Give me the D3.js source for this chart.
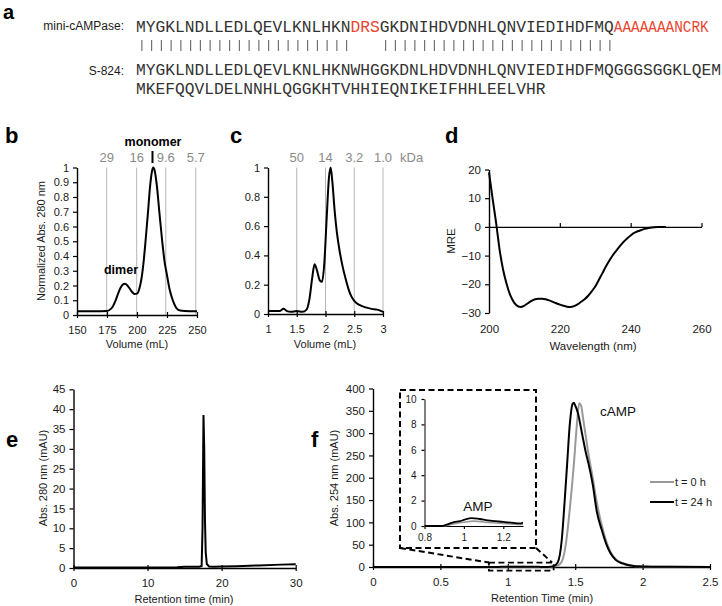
<!DOCTYPE html>
<html><head><meta charset="utf-8">
<script src="https://cdn.jsdelivr.net/npm/d3@7"></script>
<style>
body{margin:0;background:#fff;}
svg{display:block;font-family:"Liberation Sans",Arial,sans-serif;}
</style></head><body>
<svg id="chart" width="722" height="606"></svg>
<script>
// ================= DATA =================
// panel a: sequences
const seqMini = "MYGKLNDLLEDLQEVLKNLHKNDRSGKDNIHDVDNHLQNVIEDIHDFMQAAAAAAANCRK";
const seqMiniRedRanges = [[22, 25], [49, 60]];
const seqS824Line1 = "MYGKLNDLLEDLQEVLKNLHKNWHGGKDNLHDVDNHLQNVIEDIHDFMQGGGSGGKLQEM";
const seqS824Line2 = "MKEFQQVLDELNNHLQGGKHTVHHIEQNIKEIFHHLEELVHR";
const alignRanges = [[0, 21], [25, 48]];

// panel b: SEC (Volume mL vs normalized abs)
const bVolume = [150,165,175,178,180,182,184,186,188,190,192,194,196,198,200,202,204,205.5,207,209,211,212.5,213.6,214.7,216.5,218.6,221,223,225,227,229,231,233,236,240,250];
const bAbs    = [0.025,0.025,0.027,0.04,0.06,0.095,0.14,0.18,0.205,0.212,0.2,0.178,0.155,0.143,0.145,0.18,0.26,0.36,0.49,0.68,0.88,0.975,1.0,0.98,0.88,0.7,0.5,0.36,0.27,0.18,0.12,0.075,0.045,0.03,0.027,0.025];
const bXTicks = [150,175,200,225,250];
const bKdaPos = [174.75,199.75,224,249];
const bKdaLabels = ["29","16","9.6","5.7"];

// panel c
const cVolume = [1,1.1,1.2,1.27,1.33,1.4,1.5,1.6,1.67,1.72,1.77,1.81,1.85,1.9,1.94,1.98,2.02,2.06,2.09,2.12,2.16,2.2,2.25,2.3,2.35,2.4,2.45,2.5,2.6,2.7,2.8,2.9,3];
const cAbs    = [0.02,0.02,0.02,0.035,0.02,0.015,0.02,0.015,0.03,0.1,0.25,0.34,0.3,0.23,0.22,0.35,0.65,0.93,1.0,0.9,0.7,0.55,0.42,0.32,0.24,0.17,0.12,0.09,0.06,0.045,0.035,0.03,0.015];
const cXTicks = [1,1.5,2,2.5,3];
const cKdaPos = [1.5,2,2.5,3];
const cKdaLabels = ["50","14","3.2","1.0"];

// panel d: CD spectrum
const dWave = [200,201,202,203,204,205,206,207,208,209,210,211,212,213,214,215,216,217,218,219,220,221,222,223,224,225,226,227,228,229,230,231,232,233,234,235,236,237,238,239,240,241,242,243,244,245,246,248,250];
const dMRE  = [19,10,1.5,-8,-15,-20,-23.8,-26.2,-27.5,-27.9,-27.4,-26.6,-25.8,-25.2,-25,-25,-25.2,-25.6,-26.1,-26.6,-27.1,-27.5,-27.8,-27.9,-27.6,-27,-26.1,-25.2,-24,-22.5,-20.8,-18.5,-16.2,-13.8,-11.7,-9.8,-8.2,-6.6,-5.2,-4,-3,-2.1,-1.5,-1.1,-0.7,-0.4,-0.2,-0.05,0];
const dXTicks = [200,220,240,260];
const dYTicks = [-30,-20,-10,0,10,20];

// panel e: HPLC 280 nm
const eTime = [0,5,10,12,14,15,16,17,17.3,17.42,17.55,17.65,17.75,17.85,18,18.3,19,20,22,25,28,30];
const eAbs  = [0.1,0.1,0.1,0.15,0.2,0.3,0.3,0.3,0.5,10,38.5,30,12,4,1,0.4,0.3,0.35,0.45,0.65,0.85,0.95];
const eXTicks = [0,10,20,30];

// panel f: HPLC 254 nm, t = 0 h and t = 24 h
const fTime0 = [0,0.8,0.9,0.93,0.96,1.0,1.05,1.1,1.15,1.2,1.25,1.3,1.36,1.4,1.43,1.46,1.49,1.51,1.53,1.545,1.56,1.58,1.6,1.63,1.66,1.7,1.73,1.76,1.8,1.85,1.9,2,2.2,2.5];
const fAbs0  = [0,0,0,0.1,0.2,0.3,0.38,0.32,0.25,0.2,0.15,0.12,2,12,50,130,230,310,367,360,330,290,250,200,145,90,58,35,18,9,4,1,0.3,0];
const fTime24 = [0,0.8,0.89,0.92,0.95,0.98,1.0,1.04,1.08,1.12,1.16,1.2,1.25,1.28,1.3,1.34,1.37,1.4,1.42,1.44,1.46,1.48,1.49,1.5,1.52,1.55,1.58,1.6,1.63,1.66,1.7,1.73,1.76,1.8,1.85,1.9,2,2.2,2.5];
const fAbs24  = [0,0,0,0.15,0.3,0.38,0.48,0.62,0.55,0.45,0.38,0.32,0.25,0.2,0.25,2,10,60,140,230,320,365,368,362,345,300,255,230,185,125,80,52,32,16,8,4,1,0.3,0];
const fSeries = ["t = 0 h", "t = 24 h"];
const fXTicks = [0,0.5,1,1.5,2,2.5];
const insetXTicks = [0.8,1,1.2];
const insetYTicks = [0,2,4,6,8,10];
const zoomBox = {x0: 0.86, x1: 1.34, y0: -8, y1: 10};

// ================= DRAWING =================
const svg = d3.select("#chart");
svg.append("rect").attr("width",722).attr("height",606).attr("fill","#fff");
const FONT = "Liberation Sans, Arial, sans-serif";

function styleAxis(g, fs) {
  g.attr("font-family", FONT).attr("font-size", fs || 11);
  g.select(".domain").attr("stroke","#000").attr("stroke-width",1.4);
  g.selectAll(".tick line").attr("stroke","#000").attr("stroke-width",1.2);
  g.selectAll(".tick text").attr("fill","#1a1a1a");
}
function crossTicks(g, h) {
  g.selectAll(".tick line").attr("y1", -h).attr("y2", h);
}
function letter(t, x, y, fs) {
  svg.append("text").attr("x",x).attr("y",y).attr("font-size",fs||22).attr("font-weight","bold")
    .attr("font-family",FONT).attr("fill","#000").text(t);
}
function txt(t, x, y, opts) {
  opts = opts || {};
  const s = svg.append("text").attr("x",x).attr("y",y).attr("font-size",opts.fs||11)
    .attr("font-family",FONT).attr("fill",opts.fill||"#1a1a1a")
    .attr("text-anchor",opts.anchor||"middle").text(t);
  if (opts.weight) s.attr("font-weight",opts.weight);
  if (opts.rot) s.attr("transform",`rotate(-90,${x},${y})`);
  return s;
}
function linePath(xs, ys, x, y, curve) {
  const pts = xs.map((v,i)=>[v, ys[i]]);
  return d3.line().x(d=>x(d[0])).y(d=>y(d[1])).curve(curve || d3.curveMonotoneX)(pts);
}

// ---------- panel a ----------
letter("a", 3, 19, 20);
const MONO = "Liberation Mono, Courier New, monospace";
const cw = 9.75, seqX = 136;
txt("mini-cAMPase:", 124, 30, {fs:12, anchor:"end"});
txt("S-824:", 124, 75, {fs:12, anchor:"end"});
(function(){
  const breaks = [0];
  seqMiniRedRanges.forEach(r=>{breaks.push(r[0]); breaks.push(r[1]);});
  breaks.push(seqMini.length);
  const uniq = Array.from(new Set(breaks)).sort((a,b)=>a-b);
  for (let k=0;k<uniq.length-1;k++){
    const s=uniq[k], e=uniq[k+1];
    if (e<=s) continue;
    const red = seqMiniRedRanges.some(r=>s>=r[0] && e<=r[1]);
    const t = svg.append("text").attr("x", seqX + s*cw).attr("y",32)
      .attr("font-family",MONO).attr("font-size",16.25)
      .attr("fill", red ? "#ea4530" : "#333").text(seqMini.slice(s,e));
    if (s===49) t.attr("textLength", 95).attr("lengthAdjust","spacingAndGlyphs");
  }
  alignRanges.forEach(r=>{
    for (let i=r[0]; i<=r[1]; i++) {
      const bx = seqX + (i+0.5)*cw + 1;
      svg.append("line").attr("x1",bx).attr("x2",bx).attr("y1",40).attr("y2",51)
        .attr("stroke","#666").attr("stroke-width",1.1);
    }
  });
  svg.append("text").attr("x",seqX).attr("y",75).attr("font-family",MONO).attr("font-size",16.25)
    .attr("fill","#333").text(seqS824Line1);
  svg.append("text").attr("x",seqX).attr("y",94).attr("font-family",MONO).attr("font-size",16.25)
    .attr("fill","#333").text(seqS824Line2);
})();

// ---------- panel b ----------
letter("b", 5, 143);
{
  const x = d3.scaleLinear([150,250],[77,197]);
  const y = d3.scaleLinear([0,1],[315,167.5]);
  bKdaPos.forEach((v,i)=>{
    svg.append("line").attr("x1",x(v)).attr("x2",x(v)).attr("y1",y(1)).attr("y2",y(0))
      .attr("stroke","#b5b5b5").attr("stroke-width",1);
    txt(bKdaLabels[i], x(v), 162, {fs:13, fill:"#8a8a8a"});
  });
  const gx = svg.append("g").attr("transform",`translate(0,${y(0)})`)
    .call(d3.axisBottom(x).tickValues(bXTicks).tickSize(3).tickSizeOuter(0).tickPadding(8).tickFormat(d3.format("d")));
  styleAxis(gx); crossTicks(gx,3);
  const gy = svg.append("g").attr("transform",`translate(${x(150)},0)`)
    .call(d3.axisLeft(y).ticks(10).tickSize(4).tickSizeOuter(0).tickPadding(4).tickFormat(d3.format("~g")));
  styleAxis(gy);
  svg.append("path").attr("d", linePath(bVolume,bAbs,x,y)).attr("fill","none").attr("stroke","#000").attr("stroke-width",2);
  txt("monomer", 153, 146, {fs:12.5, weight:"bold", fill:"#000"});
  svg.append("line").attr("x1",152.5).attr("x2",152.5).attr("y1",151).attr("y2",163).attr("stroke","#000").attr("stroke-width",2);
  txt("dimer", 121, 274, {fs:12.5, weight:"bold", fill:"#000"});
  txt("Volume (mL)", 137, 348, {fs:11});
  txt("Normalized Abs. 280 nm", 45, 241, {fs:11, rot:true});
}

// ---------- panel c ----------
letter("c", 230, 143);
{
  const x = d3.scaleLinear([1,3],[268,383]);
  const y = d3.scaleLinear([0,1],[314,167.5]);
  cKdaPos.forEach((v,i)=>{
    svg.append("line").attr("x1",x(v)).attr("x2",x(v)).attr("y1",y(1)).attr("y2",y(0))
      .attr("stroke","#b5b5b5").attr("stroke-width",1);
    txt(cKdaLabels[i], x(v), 162, {fs:13, fill:"#8a8a8a"});
  });
  txt("kDa", 400, 162, {fs:13, fill:"#8a8a8a", anchor:"start"});
  const gx = svg.append("g").attr("transform",`translate(0,${y(0)})`)
    .call(d3.axisBottom(x).tickValues(cXTicks).tickSize(3).tickSizeOuter(0).tickPadding(8).tickFormat(d3.format("~g")));
  styleAxis(gx); crossTicks(gx,3);
  const gy = svg.append("g").attr("transform",`translate(${x(1)},0)`)
    .call(d3.axisLeft(y).ticks(5).tickSize(4).tickSizeOuter(0).tickPadding(4).tickFormat(d3.format("~g")));
  styleAxis(gy);
  svg.append("path").attr("d", linePath(cVolume,cAbs,x,y)).attr("fill","none").attr("stroke","#000").attr("stroke-width",2);
  txt("Volume (mL)", 325, 348, {fs:11});
}

// ---------- panel d ----------
letter("d", 445, 143);
{
  const x = d3.scaleLinear([200,260],[489,701.5]);
  const y = d3.scaleLinear([-30,20],[313,169.5]);
  const gx = svg.append("g").attr("transform",`translate(0,${y(0)})`)
    .call(d3.axisBottom(x).tickValues(dXTicks).tickSize(-4).tickSizeOuter(0).tickFormat(""));
  styleAxis(gx);
  const gl = svg.append("g").attr("transform",`translate(0,${y(-30)})`)
    .call(d3.axisBottom(x).tickValues(dXTicks).tickSize(0).tickPadding(12).tickFormat(d3.format("d")));
  styleAxis(gl, 11.5); gl.select(".domain").remove();
  const gy = svg.append("g").attr("transform",`translate(${x(200)},0)`)
    .call(d3.axisLeft(y).tickValues(dYTicks).tickSize(4).tickSizeOuter(0).tickPadding(4).tickFormat(d3.format("d")));
  styleAxis(gy, 11.5);
  svg.append("path").attr("d", linePath(dWave,dMRE,x,y)).attr("fill","none").attr("stroke","#000").attr("stroke-width",2);
  txt("Wavelength (nm)", 593, 350, {fs:11.5});
  txt("MRE", 455, 241, {fs:11.5, rot:true});
}

// ---------- panel e ----------
letter("e", 6, 447);
{
  const x = d3.scaleLinear([0,30],[73.5,295.7]);
  const y = d3.scaleLinear([0,45],[568,389.3]);
  const gx = svg.append("g").attr("transform",`translate(0,${y(0)})`)
    .call(d3.axisBottom(x).tickValues(eXTicks).tickSize(3).tickSizeOuter(0).tickPadding(8).tickFormat(d3.format("d")));
  styleAxis(gx, 11.5); crossTicks(gx,3);
  const gy = svg.append("g").attr("transform",`translate(${x(0)},0)`)
    .call(d3.axisLeft(y).ticks(9).tickSize(4).tickSizeOuter(0).tickPadding(4).tickFormat(d3.format("d")));
  styleAxis(gy, 11.5);
  svg.append("path").attr("d", linePath(eTime,eAbs,x,y,d3.curveLinear)).attr("fill","none").attr("stroke","#000").attr("stroke-width",2);
  txt("Retention time (min)", 184, 603, {fs:11});
  txt("Abs. 280 nm (mAU)", 47, 478, {fs:11, rot:true});
}

// ---------- panel f ----------
letter("f", 311, 447);
{
  const x = d3.scaleLinear([0,2.5],[373,710]);
  const y = d3.scaleLinear([0,400],[567,388.5]);
  const gx = svg.append("g").attr("transform",`translate(0,${y(0)})`)
    .call(d3.axisBottom(x).tickValues(fXTicks).tickSize(3).tickSizeOuter(0).tickPadding(8).tickFormat(d3.format("~g")));
  styleAxis(gx, 11.5); crossTicks(gx,3);
  const gy = svg.append("g").attr("transform",`translate(${x(0)},0)`)
    .call(d3.axisLeft(y).ticks(8).tickSize(4).tickSizeOuter(0).tickPadding(4).tickFormat(d3.format("d")));
  styleAxis(gy, 11.5);
  const colors = ["#999999","#000000"];
  svg.append("path").attr("d", linePath(fTime0,fAbs0,x,y)).attr("fill","none").attr("stroke",colors[0]).attr("stroke-width",2);
  svg.append("path").attr("d", linePath(fTime24,fAbs24,x,y)).attr("fill","none").attr("stroke",colors[1]).attr("stroke-width",2);
  txt("cAMP", 618, 416, {fs:13.5, fill:"#111"});
  fSeries.forEach((s,i)=>{
    const ly = 482 + i*20;
    svg.append("line").attr("x1",650).attr("x2",674).attr("y1",ly).attr("y2",ly).attr("stroke",colors[i]).attr("stroke-width",2);
    txt(s, 675, ly+4, {fs:11, anchor:"start"});
  });
  txt("Retention Time (min)", 542, 602, {fs:11});
  txt("Abs. 254 nm (mAU)", 338, 478, {fs:11, rot:true});

  const dash = "6,3.5";
  const zb = {l:x(zoomBox.x0), r:x(zoomBox.x1), t:y(zoomBox.y1), b:y(zoomBox.y0)};
  svg.append("rect").attr("x",zb.l).attr("y",zb.t).attr("width",zb.r-zb.l).attr("height",zb.b-zb.t)
    .attr("fill","none").attr("stroke","#000").attr("stroke-width",1.8).attr("stroke-dasharray",dash);
  const ib = {l:400, r:536, t:390, b:548};
  svg.append("rect").attr("x",ib.l).attr("y",ib.t).attr("width",ib.r-ib.l).attr("height",ib.b-ib.t)
    .attr("fill","none").attr("stroke","#000").attr("stroke-width",2).attr("stroke-dasharray",dash);
  svg.append("line").attr("x1",ib.l).attr("y1",ib.b).attr("x2",zb.l).attr("y2",zb.t)
    .attr("stroke","#000").attr("stroke-width",2).attr("stroke-dasharray",dash);
  svg.append("line").attr("x1",ib.r).attr("y1",ib.b).attr("x2",zb.r-1.5).attr("y2",zb.t)
    .attr("stroke","#000").attr("stroke-width",2).attr("stroke-dasharray",dash);

  const xi = d3.scaleLinear([0.8,1.3],[424.5,523]);
  const yi = d3.scaleLinear([0,10],[526,399]);
  const gxi = svg.append("g").attr("transform",`translate(0,${yi(0)})`)
    .call(d3.axisBottom(xi).tickValues(insetXTicks).tickSize(3).tickSizeOuter(0).tickPadding(5).tickFormat(d3.format("~g")));
  styleAxis(gxi,10); gxi.select(".domain").attr("stroke-width",1);
  const gyi = svg.append("g").attr("transform",`translate(${xi(0.8)},0)`)
    .call(d3.axisLeft(yi).tickValues(insetYTicks).tickSize(3).tickSizeOuter(0).tickPadding(5).tickFormat(d3.format("d")));
  styleAxis(gyi,10); gyi.select(".domain").attr("stroke-width",1);
  svg.append("clipPath").attr("id","insetClip").append("rect")
    .attr("x",xi(0.8)).attr("y",yi(10)).attr("width",xi(1.3)-xi(0.8)).attr("height",yi(0)-yi(10)+2);
  const ig = svg.append("g").attr("clip-path","url(#insetClip)");
  ig.append("path").attr("d", linePath(fTime0,fAbs0,xi,yi)).attr("fill","none").attr("stroke",colors[0]).attr("stroke-width",1.6);
  ig.append("path").attr("d", linePath(fTime24,fAbs24,xi,yi)).attr("fill","none").attr("stroke",colors[1]).attr("stroke-width",1.8);
  txt("AMP", 478, 511, {fs:13.5, fill:"#111"});
}
</script>
</body></html>
